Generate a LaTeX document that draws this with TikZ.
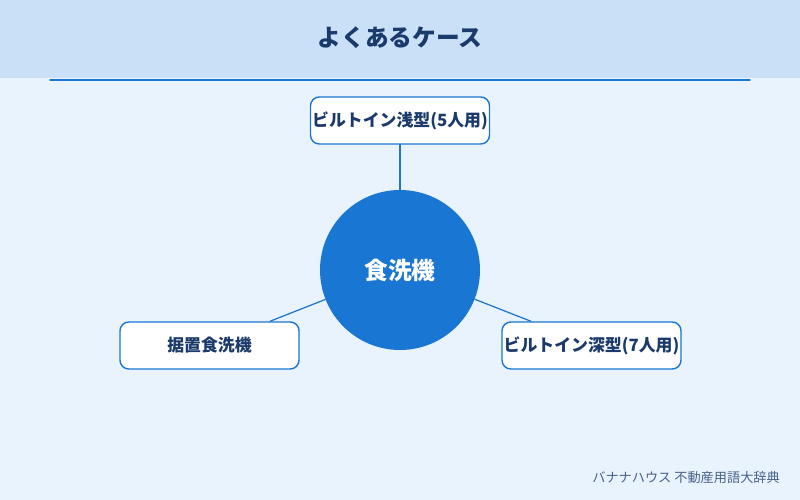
\documentclass[tikz,border=0pt]{standalone}
\usepackage{fontspec}
\setmainfont{Noto Sans CJK JP}
\definecolor{bgblue}{HTML}{E8F3FE}
\definecolor{headblue}{HTML}{C9E0F7}
\definecolor{mainblue}{HTML}{1976D2}
\definecolor{navy}{HTML}{1A3A6B}
\tikzset{
  casebox/.style={draw=mainblue, fill=white, rounded corners=5pt, line width=0.8pt,
    minimum width=3.58cm, minimum height=0.94cm, inner sep=0pt,
    text=navy, font=\fontsize{9.6pt}{10pt}\selectfont\bfseries},
  link/.style={draw=mainblue, line width=0.7pt}
}
\begin{document}
\begin{tikzpicture}[line join=round, line cap=round]
  \fill[bgblue] (0,0) rectangle (16,10);
  \useasboundingbox (0,0) rectangle (16,10);
  \fill[headblue] (0,8.44) rectangle (16,10);
  \draw[mainblue, line width=0.8pt] (1,8.4) -- (15,8.4);
  \node[text=navy, font=\fontsize{13.5pt}{15pt}\selectfont\bfseries] (title) at (8,9.24) {よくあるケース};
  % 中心
  \node[circle, fill=mainblue, minimum size=3.2cm, inner sep=0pt, text=white,
    font=\fontsize{13.5pt}{15pt}\selectfont\bfseries] (hub) at (8,4.6) {食洗機};
  % ケース
  \node[casebox] (top) at (8,7.59) {ビルトイン浅型(5人用)};
  \node[casebox] (lbox) at (4.19,3.09) {据置食洗機};
  \node[casebox] (rbox) at (11.83,3.09) {ビルトイン深型(7人用)};
  \draw[link] (top) -- (hub);
  \draw[link] ([xshift=1.21cm]lbox.north) -- (hub);
  \draw[link] ([xshift=-1.21cm]rbox.north) -- (hub);
  \node[anchor=east, text=navy!80, font=\fontsize{7.5pt}{8pt}\selectfont] (foot) at (15.72,0.44) {バナナハウス 不動産用語大辞典};
\end{tikzpicture}
\end{document}
